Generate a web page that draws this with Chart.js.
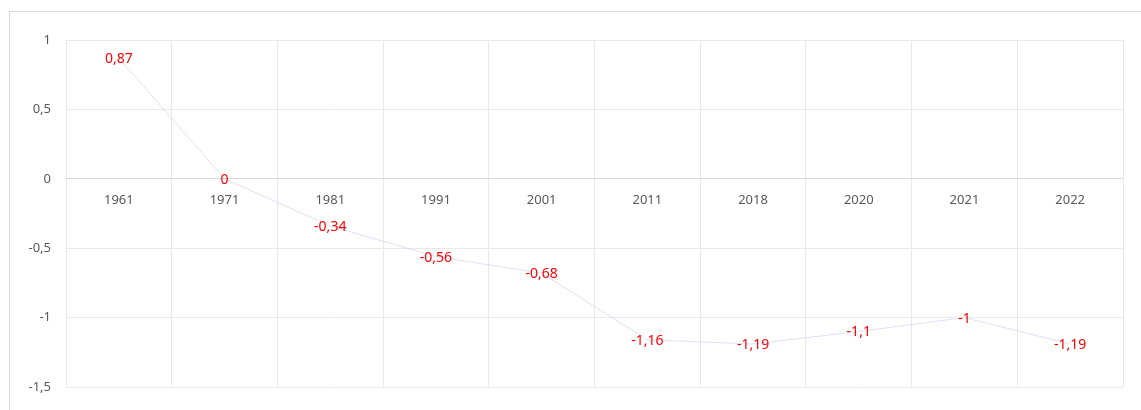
<!DOCTYPE html>
<html>
<head>
<meta charset="utf-8">
<script src="https://cdn.jsdelivr.net/npm/chart.js@4/dist/chart.umd.min.js"></script>
<style>
  body { margin: 0; background: #fff; }
  #frame { position: absolute; left: 9px; top: 11px; width: 1200px; height: 500px; border: 1px solid #d9d9d9; }
  #wrap { position: absolute; left: 0; top: 0; width: 1141px; height: 410px; }
</style>
</head>
<body>
<div id="frame"></div>
<div id="wrap"><canvas id="lineChart"></canvas></div>
<script>
let years = ["1961", "1971", "1981", "1991", "2001", "2011", "2018", "2020", "2021", "2022"];
let values = [0.87, 0, -0.34, -0.56, -0.68, -1.16, -1.19, -1.1, -1, -1.19];
let yTicks = [-1.5, -1, -0.5, 0, 0.5, 1];

let comma = (v) => String(v).replace(".", ",");

// red value labels centred on each point
let valueLabels = {
  id: "valueLabels",
  afterDatasetsDraw(chart) {
    let c = chart.ctx;
    let meta = chart.getDatasetMeta(0);
    c.save();
    c.font = "14px 'Noto Sans'";
    c.fillStyle = "#ff0000";
    c.textAlign = "center";
    c.textBaseline = "middle";
    meta.data.forEach((pt, i) => {
      c.fillText(comma(values[i]), pt.x, pt.y + 1);
    });
    c.restore();
  },
};

let ctx = document.getElementById("lineChart").getContext("2d");
let myChart = new Chart(ctx, {
  type: "line",
  data: {
    labels: years,
    datasets: [
      {
        data: values,
        borderColor: "rgba(170,180,235,0.4)",
        borderWidth: 1,
        pointRadius: 0,
        tension: 0,
      },
    ],
  },
  options: {
    responsive: true,
    maintainAspectRatio: false,
    animation: false,
    layout: { padding: { left: 0, top: 40, right: 18, bottom: 23 } },
    plugins: { legend: { display: false }, tooltip: { enabled: false } },
    scales: {
      x: {
        position: { y: 0 },
        offset: true,
        grid: { offset: true, color: "#e9e9e9", drawTicks: false },
        border: { display: false },
        ticks: { color: "#595959", font: { family: "Noto Sans", size: 13 }, padding: 14, maxRotation: 0 },
      },
      y: {
        min: -1.5,
        max: 1,
        afterFit: (scale) => { scale.width = 66; },
        afterBuildTicks: (scale) => { scale.ticks = yTicks.map((v) => ({ value: v })); },
        grid: {
          color: (c) => (c.tick && c.tick.value === 0 ? "#d9d9d9" : "#e9e9e9"),
          drawTicks: false,
        },
        border: { display: false },
        ticks: {
          color: "#595959",
          font: { family: "Noto Sans", size: 13 },
          padding: 15,
          callback: (v) => comma(v),
        },
      },
    },
  },
  plugins: [valueLabels],
});
</script>
</body>
</html>
